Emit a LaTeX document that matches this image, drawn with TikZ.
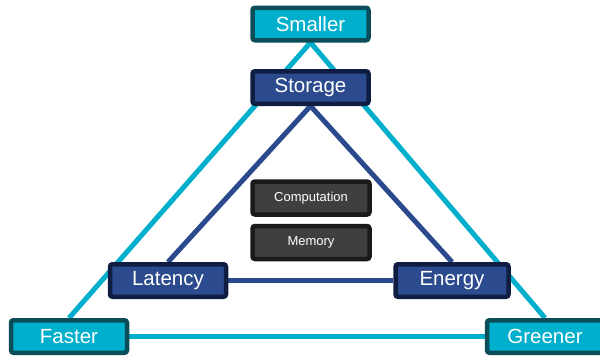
\documentclass[tikz,border=0pt]{standalone}
\usepackage{fontspec}
\setmainfont{Liberation Sans}
\usetikzlibrary{backgrounds}
\definecolor{cyanfill}{HTML}{00AFCC}
\definecolor{cyanedge}{HTML}{0B4D59}
\definecolor{navyfill}{HTML}{2C4B8E}
\definecolor{navyedge}{HTML}{0F1D42}
\definecolor{navyline}{HTML}{2B4A8E}
\definecolor{grayfill}{HTML}{3F3F3F}
\definecolor{grayedge}{HTML}{1A1A1A}
\tikzset{
  boxbase/.style={rectangle, rounded corners=2.5pt, line width=4.5pt,
    text=white, inner sep=0pt, minimum height=32.5pt},
  goalbox/.style={boxbase, draw=cyanedge, fill=cyanfill, minimum width=116pt,
    font=\fontsize{20.5}{22}\selectfont},
  costbox/.style={boxbase, draw=navyedge, fill=navyfill, minimum width=116pt,
    font=\fontsize{20.5}{22}\selectfont},
  workbox/.style={boxbase, draw=grayedge, fill=grayfill, minimum width=117pt,
    minimum height=33pt, font=\fontsize{13}{15}\selectfont},
  goalline/.style={draw=cyanfill, line width=5pt},
  costline/.style={draw=navyline, line width=5pt}
}
\begin{document}
\begin{tikzpicture}[x=1pt,y=-1pt]
  \useasboundingbox (0,0) rectangle (600,356);
  \clip (0,0) rectangle (600,356);
  % outer triangle of goals
  \node[goalbox] (smaller) at (310.5,24) {Smaller};
  \node[goalbox] (faster)  at (69,336.5) {Faster};
  \node[goalbox] (greener) at (545,336.5) {Greener};
  % inner triangle of costs
  \node[costbox] (storage) at (310.5,87.5) {Storage};
  \node[costbox] (latency) at (168,280.5) {Latency};
  \node[costbox, minimum width=113pt] (energy) at (452,280.5) {Energy};
  % workload blocks
  \node[workbox] (comp) at (311,198) {Computation};
  \node[workbox] (mem)  at (311,242.5) {Memory};
  \begin{pgfonlayer}{background}
    \draw[goalline] (smaller.south) -- (faster.north);
    \draw[goalline] (smaller.south) -- (greener.north);
    \draw[goalline] (faster) -- (greener);
    \draw[costline] (storage.south) -- (latency.north);
    \draw[costline] (storage.south) -- (energy.north);
    \draw[costline] (latency) -- (energy);
  \end{pgfonlayer}
\end{tikzpicture}
\end{document}
